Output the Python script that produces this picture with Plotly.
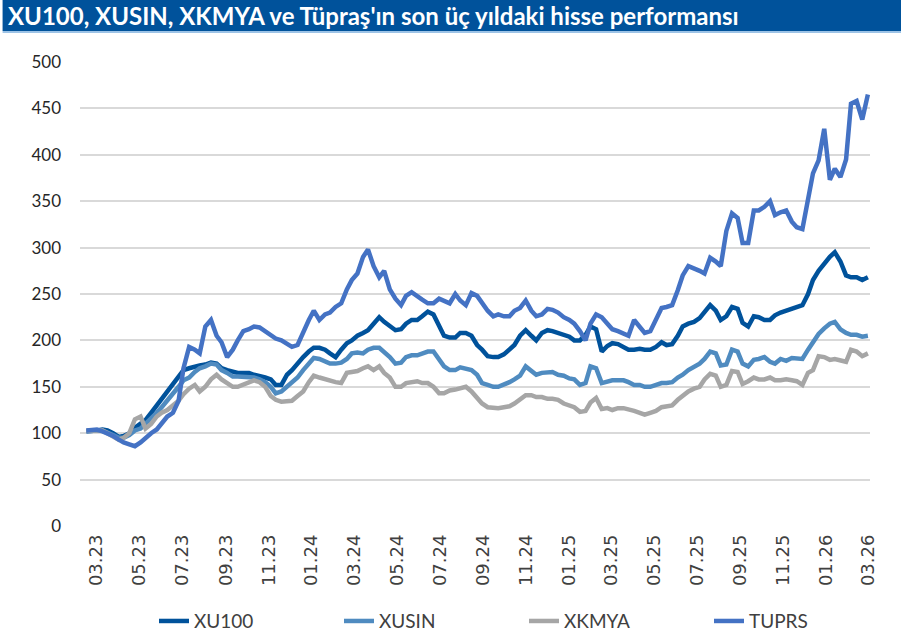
import plotly.graph_objects as go
import pandas as pd

# haftalık-benzeri noktalar: 15.02.2023 -> 01.03.2026 (145 gözlem)
dates = pd.date_range("2023-02-15", "2026-03-01", periods=145).strftime("%Y-%m-%d").tolist()

xu100 = [102, 103, 103, 104, 103, 100, 96, 97, 100, 106, 110, 114, 122, 130, 138, 145,
         152, 160, 168, 170, 172, 173, 174, 176, 175, 170, 168, 166, 165, 165, 165, 163,
         162, 160, 158, 152, 152, 163, 168, 176, 182, 188, 192, 192, 190, 186, 182, 190,
         197, 200, 205, 208, 211, 218, 225, 220, 215, 211, 212, 218, 222, 222, 226, 231,
         228, 215, 205, 203, 203, 208, 208, 205, 195, 190, 183, 182, 182, 185, 190, 195,
         205, 211, 205, 200, 208, 211, 210, 208, 205, 204, 200, 200, 206, 215, 212, 188,
         194, 197, 196, 193, 190, 190, 191, 190, 190, 193, 198, 195, 196, 205, 215, 218,
         220, 224, 230, 238, 232, 222, 226, 236, 234, 219, 215, 226, 225, 222, 222, 227,
         230, 232, 235, 236, 238, 250, 265, 275, 283, 290, 295, 285, 270, 268, 268, 265,
         268]
xusin = [102, 103, 103, 103, 101, 98, 95, 95, 98, 103, 105, 110, 115, 122, 128, 135,
         142, 150, 157, 160, 166, 170, 172, 175, 174, 168, 165, 161, 161, 161, 161, 160,
         158, 155, 150, 143, 145, 150, 155, 160, 168, 175, 181, 180, 178, 175, 175, 176,
         180, 186, 187, 186, 190, 192, 192, 188, 182, 175, 176, 182, 184, 184, 186, 188,
         188, 180, 172, 168, 168, 171, 170, 168, 163, 154, 152, 150, 150, 152, 155, 158,
         162, 172, 167, 163, 165, 166, 166, 163, 162, 159, 158, 152, 154, 172, 170, 154,
         156, 157, 157, 157, 155, 152, 152, 150, 150, 152, 154, 154, 155, 160, 163, 168,
         172, 175, 180, 188, 186, 173, 174, 190, 188, 175, 172, 179, 180, 182, 177, 175,
         180, 178, 181, 181, 180, 190, 198, 207, 213, 218, 220, 212, 208, 206, 206, 204,
         205]
xkmya = [103, 103, 104, 103, 100, 97, 93, 95, 100, 115, 118, 105, 110, 118, 122, 125,
         130, 135, 142, 148, 152, 145, 150, 158, 163, 158, 154, 150, 150, 152, 155, 157,
         155, 150, 140, 136, 134, 134, 135, 140, 145, 155, 162, 160, 158, 157, 155, 154,
         165, 166, 167, 170, 172, 168, 172, 165, 160, 150, 150, 154, 155, 156, 154, 154,
         150, 143, 143, 146, 147, 148, 150, 145, 138, 132, 128, 127, 127, 128, 129, 132,
         136, 141, 141, 139, 139, 137, 137, 136, 132, 130, 128, 123, 124, 133, 138, 126,
         127, 125, 127, 127, 126, 124, 122, 120, 122, 124, 128, 129, 130, 136, 140, 145,
         148, 150, 158, 164, 162, 150, 152, 167, 166, 153, 156, 160, 158, 158, 160, 157,
         157, 158, 157, 156, 152, 165, 168, 183, 182, 179, 180, 178, 177, 190, 188, 183,
         186]
tuprs = [103, 104, 104, 102, 100, 97, 93, 90, 88, 86, 90, 95, 100, 104, 110, 118,
         122, 135, 170, 193, 190, 186, 215, 222, 205, 198, 182, 190, 200, 210, 212, 215,
         214, 210, 205, 202, 200, 196, 193, 195, 210, 222, 232, 222, 228, 230, 236, 240,
         255, 265, 272, 290, 298, 280, 268, 275, 255, 245, 238, 248, 252, 247, 244, 240,
         240, 245, 243, 240, 250, 243, 238, 251, 248, 240, 232, 226, 228, 226, 226, 232,
         235, 243, 232, 226, 228, 234, 233, 230, 225, 222, 218, 210, 200, 218, 228, 225,
         218, 212, 210, 208, 205, 222, 215, 208, 210, 222, 235, 236, 238, 254, 270, 280,
         278, 275, 272, 289, 285, 280, 318, 337, 332, 305, 305, 340, 340, 344, 350, 335,
         338, 340, 328, 322, 320, 350, 380, 394, 428, 373, 385, 376, 395, 455, 458, 438,
         465]

series = [
    ("XU100", xu100, "#00529B"),
    ("XUSIN", xusin, "#4F8BC0"),
    ("XKMYA", xkmya, "#A6A6A6"),
    ("TUPRS", tuprs, "#4472C4"),
]

fig = go.Figure()
for name, vals, color in series:
    fig.add_trace(go.Scatter(
        x=dates, y=vals, mode="lines", name=name,
        line=dict(color=color, width=4.5),
    ))

# başlık şeridi (plot alanı: 790 x 464 px, sol 80, üst 62)
fig.add_shape(type="rect", xref="paper", yref="paper",
              x0=-0.098, x1=1.04, y0=1.0668, y1=1.14,
              fillcolor="#00529B", line_width=0, layer="above")
fig.add_shape(type="line", xref="paper", yref="paper",
              x0=-0.098, x1=1.04, y0=1.0646, y1=1.0646,
              line=dict(color="#9DC3E6", width=2))
fig.add_annotation(text="<b>XU100, XUSIN, XKMYA ve Tüpraş'ın son üç yıldaki hisse performansı</b>",
                   xref="paper", yref="paper", x=-0.094, y=1.101, xanchor="left", yanchor="middle",
                   showarrow=False, font=dict(family="Lato", size=24, color="white"))

fig.update_layout(
    width=901, height=639,
    paper_bgcolor="white", plot_bgcolor="white",
    margin=dict(l=80, r=31, t=62, b=113, autoexpand=False),
    showlegend=True,
    legend=dict(orientation="h", x=0.562, xanchor="center", y=-0.205, yanchor="middle",
                entrywidth=140, entrywidthmode="pixels",
                font=dict(family="Lato", size=19, color="#404040")),
    xaxis=dict(
        type="date", range=["2023-02-06", "2026-03-04"],
        tick0="2023-03-01", dtick="M2", tickformat="%m.%y",
        tickangle=-90, showgrid=False, zeroline=False, showline=False,
        automargin=False, ticklabelstandoff=4,
        tickfont=dict(family="DejaVu Sans", size=18, color="#404040"),
    ),
    yaxis=dict(
        range=[0, 500], dtick=50, showgrid=True, gridcolor="#D9D9D9", gridwidth=2,
        zeroline=False, ticklabelstandoff=18, automargin=False,
        tickfont=dict(family="Lato", size=17, color="#262626"),
    ),
)

# sayfa kenar boşluğunu kaldır
fig.write_html("out.html", config={"displayModeBar": False},
               post_script="document.body.style.margin='0';document.body.style.overflow='hidden';")
